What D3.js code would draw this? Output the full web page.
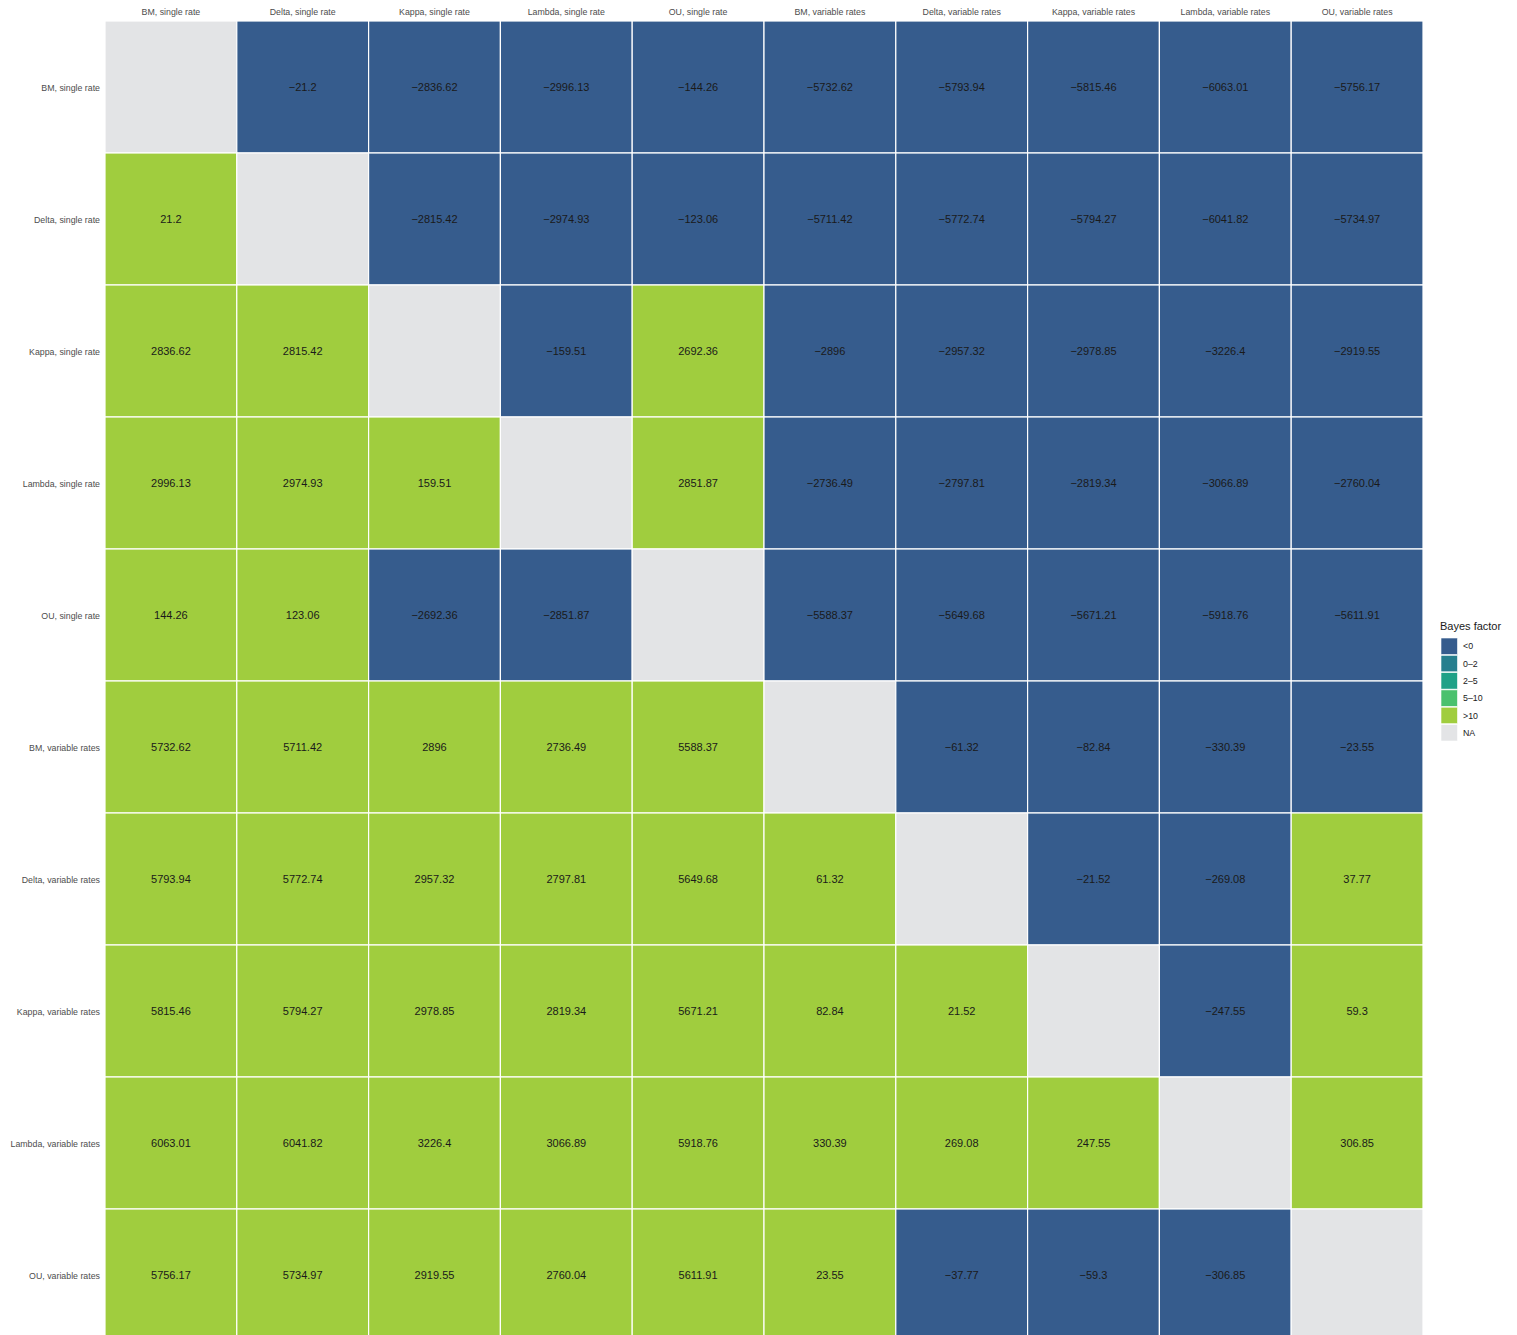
<!DOCTYPE html>
<html>
<head>
<meta charset="utf-8">
<script src="https://cdn.jsdelivr.net/npm/d3@7"></script>
<style>
  html, body { margin: 0; padding: 0; background: #fff; overflow: hidden; }
  svg { display: block; font-family: "Liberation Sans", Arial, Helvetica, sans-serif; }
</style>
</head>
<body>
<svg id="chart" width="1517" height="1335"></svg>
<script>
// Model names (rows = model A, columns = model B)
const models = [
  "BM, single rate", "Delta, single rate", "Kappa, single rate", "Lambda, single rate", "OU, single rate",
  "BM, variable rates", "Delta, variable rates", "Kappa, variable rates", "Lambda, variable rates", "OU, variable rates"
];

// Bayes factor for each pair, one array per row (null on the diagonal)
const rowBM1     = [null, -21.2, -2836.62, -2996.13, -144.26, -5732.62, -5793.94, -5815.46, -6063.01, -5756.17];
const rowDelta1  = [21.2, null, -2815.42, -2974.93, -123.06, -5711.42, -5772.74, -5794.27, -6041.82, -5734.97];
const rowKappa1  = [2836.62, 2815.42, null, -159.51, 2692.36, -2896, -2957.32, -2978.85, -3226.4, -2919.55];
const rowLambda1 = [2996.13, 2974.93, 159.51, null, 2851.87, -2736.49, -2797.81, -2819.34, -3066.89, -2760.04];
const rowOU1     = [144.26, 123.06, -2692.36, -2851.87, null, -5588.37, -5649.68, -5671.21, -5918.76, -5611.91];
const rowBMv     = [5732.62, 5711.42, 2896, 2736.49, 5588.37, null, -61.32, -82.84, -330.39, -23.55];
const rowDeltav  = [5793.94, 5772.74, 2957.32, 2797.81, 5649.68, 61.32, null, -21.52, -269.08, 37.77];
const rowKappav  = [5815.46, 5794.27, 2978.85, 2819.34, 5671.21, 82.84, 21.52, null, -247.55, 59.3];
const rowLambdav = [6063.01, 6041.82, 3226.4, 3066.89, 5918.76, 330.39, 269.08, 247.55, null, 306.85];
const rowOUv     = [5756.17, 5734.97, 2919.55, 2760.04, 5611.91, 23.55, -37.77, -59.3, -306.85, null];

const rows = [rowBM1, rowDelta1, rowKappa1, rowLambda1, rowOU1, rowBMv, rowDeltav, rowKappav, rowLambdav, rowOUv];

// Legend classes
const classes = ["<0", "0\u20132", "2\u20135", "5\u201310", ">10", "NA"];
const classColors = ["#365c8d", "#277f8e", "#1fa187", "#4ac16d", "#a0cd3e", "#e3e4e6"];

function classify(v) {
  if (v === null) return "NA";
  if (v < 0) return classes[0];
  if (v < 2) return classes[1];
  if (v < 5) return classes[2];
  if (v < 10) return classes[3];
  return classes[4];
}

const cells = [];
rows.forEach((r, i) => r.forEach((v, j) => cells.push({ row: models[i], col: models[j], value: v })));

const svg = d3.select("#chart");
const gridLeft = 105, gridTop = 21, gridW = 1318, gridH = 1320;

const x = d3.scaleBand().domain(models).range([gridLeft, gridLeft + gridW]).padding(0);
const y = d3.scaleBand().domain(models).range([gridTop, gridTop + gridH]).padding(0);
const color = d3.scaleOrdinal().domain(classes).range(classColors);

const fmt = v => String(v).replace("-", "\u2212");
const midRow = 67.5;

svg.append("g").selectAll("rect")
  .data(cells).join("rect")
  .attr("x", d => x(d.col))
  .attr("y", d => y(d.row))
  .attr("width", x.bandwidth())
  .attr("height", y.bandwidth())
  .attr("fill", d => color(classify(d.value)))
  .attr("stroke", "#fff")
  .attr("stroke-width", 1.2);

svg.append("g").selectAll("text")
  .data(cells.filter(d => d.value !== null)).join("text")
  .attr("x", d => x(d.col) + x.bandwidth() / 2)
  .attr("y", d => y(d.row) + midRow)
  .attr("text-anchor", "middle")
  .attr("dominant-baseline", "middle")
  .attr("font-size", 11)
  .attr("fill", "#1a1a1a")
  .text(d => fmt(d.value));

// Column labels along the top
const xAxis = d3.axisTop(x).tickSize(0).tickPadding(2);
const gx = svg.append("g").attr("transform", `translate(0,${gridTop - 4})`).call(xAxis);
gx.select(".domain").remove();
gx.selectAll("text").attr("font-size", 8.8).attr("fill", "#4d4d4d").attr("font-family", "Liberation Sans, Arial, sans-serif");

// Row labels on the left
const yAxis = d3.axisLeft(y).tickSize(0).tickPadding(5);
const gy = svg.append("g").attr("transform", `translate(${gridLeft},0)`).call(yAxis);
gy.select(".domain").remove();
gy.selectAll("text").attr("font-size", 8.8).attr("fill", "#4d4d4d").attr("font-family", "Liberation Sans, Arial, sans-serif");
gy.selectAll(".tick").attr("transform", d => `translate(0,${y(d) + midRow})`);

// Legend
const legend = svg.append("g").attr("transform", "translate(1440,627)");
legend.append("text").attr("x", 0).attr("y", 0).attr("font-size", 11).attr("fill", "#1a1a1a")
  .attr("dominant-baseline", "middle").text("Bayes factor");
const item = legend.selectAll("g.item").data(classes).join("g")
  .attr("class", "item")
  .attr("transform", (d, i) => `translate(1,${11 + i * 17.3})`);
item.append("rect").attr("width", 16.5).attr("height", 16.5).attr("fill", d => color(d)).attr("stroke", "#fff").attr("stroke-width", 0.6);
item.append("text").attr("x", 22).attr("y", 9).attr("dominant-baseline", "middle")
  .attr("font-size", 8.8).attr("fill", "#1a1a1a").text(d => d);
</script>
</body>
</html>
